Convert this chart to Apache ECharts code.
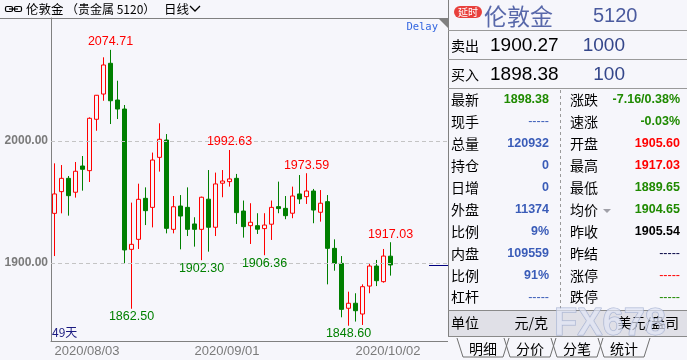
<!DOCTYPE html>
<html><head><meta charset="utf-8">
<script src="https://cdn.jsdelivr.net/npm/echarts/dist/echarts.min.js"></script>
<style>html,body{margin:0;padding:0;background:#f6f6fb}#c{width:687px;height:360px}</style>
</head><body><div id="c"></div>
<script>
const dates = ['2020/08/03','2020/08/04','2020/08/05','2020/08/06','2020/08/07','2020/08/10','2020/08/11','2020/08/12','2020/08/13','2020/08/14',
'2020/08/17','2020/08/18','2020/08/19','2020/08/20','2020/08/21','2020/08/24','2020/08/25','2020/08/26','2020/08/27','2020/08/28',
'2020/09/01','2020/09/02','2020/09/03','2020/09/04','2020/09/07','2020/09/08','2020/09/09','2020/09/10','2020/09/11','2020/09/14',
'2020/09/15','2020/09/16','2020/09/17','2020/09/18','2020/09/21','2020/09/22','2020/09/23','2020/09/24','2020/09/25','2020/09/28',
'2020/09/29','2020/09/30','2020/10/01','2020/10/02','2020/10/05','2020/10/06','2020/10/07','2020/10/08','2020/10/09'];
const opens = [1940.7,1958.5,1969.4,1958.0,1979.5,1975.7,2017.8,2038.5,2063.7,2033.6,
2026.2,1911.2,1919.4,1953.0,1945.6,1986.6,2000.8,1927.6,1946.7,1945.6,
1932.0,1927.6,1952.3,1929.3,1965.4,1966.7,1969.4,1942.6,1930.6,1930.6,
1928.2,1931.8,1946.2,1944.8,1940.8,1956.6,1954.4,1959.0,1941.6,1950.3,
1912.0,1899.7,1862.9,1867.0,1858.2,1881.1,1897.5,1884.7,1905.60];
const closes = [1956.6,1969.4,1955.2,1975.2,1976.8,2018.6,2037.5,2062.3,2033.0,2026.2,
1910.7,1915.3,1952.2,1942.9,1984.4,2001.4,1928.4,1946.1,1938.5,1927.6,
1927.6,1953.9,1929.3,1964.8,1967.2,1968.9,1941.3,1929.8,1933.4,1927.7,
1931.1,1945.6,1944.6,1938.8,1954.9,1952.5,1959.0,1943.4,1949.0,1912.0,
1899.7,1862.0,1867.0,1860.9,1880.6,1897.5,1885.5,1905.7,1898.38];
const lows = [1905.7,1940.7,1938.8,1953.6,1959.3,1966.4,2008.4,2033.0,2013.9,2018.0,
1899.7,1862.50,1911.5,1931.1,1929.2,1974.9,1924.3,1924.3,1911.2,1922.1,
1913.4,1902.30,1909.3,1922.1,1953.9,1962.6,1932.0,1920.8,1915.6,1923.8,
1906.36,1918.9,1940.8,1935.9,1936.7,1948.4,1948.4,1932.6,1933.9,1882.5,
1893.7,1855.5,1848.60,1852.0,1849.2,1875.2,1881.1,1883.9,1889.65];
const highs = [1981.7,1980.3,1971.3,1982.8,1987.7,2019.4,2037.7,2068.6,2074.71,2049.4,
2029.5,1949.5,1965.0,1962.0,1990.5,2014.5,2005.7,1954.9,1955.7,1962.0,
1937.5,1954.4,1976.2,1974.1,1976.2,1992.63,1973.0,1951.2,1949.0,1940.8,
1940.8,1951.2,1966.7,1954.9,1962.6,1972.1,1973.59,1960.7,1959.8,1955.7,
1919.4,1905.7,1876.5,1875.2,1882.5,1899.7,1902.5,1911.5,1917.03];
const highLabelIdx = [8, 25, 36, 48];
const lowLabelIdx = [11, 21, 30, 42];
const xLabelIdx = [0, 20, 43];
const yTickLabels = [1900, 2000];
const lastPrice = 1898.38;

const leftLabels = ['最新','现手','总量','持仓','日增','外盘','比例','内盘','比例','杠杆'];
const leftValues = ['1898.38','-----','120932','0','0','11374','9%','109559','91%','-----'];
const rightLabels = ['涨跌','速涨','开盘','最高','最低','均价','昨收','昨结','涨停','跌停'];
const rightValues = ['-7.16/0.38%','-0.03%','1905.60','1917.03','1889.65','1904.65','1905.54','-----','-----','-----'];
const tabs = ['明细','分价','分笔','统计'];

const BG = '#f6f6fb', GRAY = '#808080', RED = '#ff0000', GREEN = '#007f00';
const PG = '#1f8a00', PB = '#3a5cb8', NUM = 'Liberation Sans', CJK = 'Noto Sans CJK SC';
const leftColors = [PG,PB,PB,PB,PB,PB,PB,PB,PB,PB];
const rightColors = [PG,PG,RED,RED,PG,PG,'#000','#000040',RED,PG];

const pad = 8;
const cats = dates.concat(new Array(pad).fill(''));
const kdata = dates.map((d,i)=>[opens[i], closes[i], lows[i], highs[i]]);

const mp = [];
highLabelIdx.forEach(i=>mp.push({coord:[i, highs[i]], value: highs[i],
  label:{show:true, position:'top', distance:1, color:RED, formatter: highs[i].toFixed(2)}}));
lowLabelIdx.forEach(i=>mp.push({coord:[i, lows[i]], value: lows[i],
  label:{show:true, position:'bottom', distance:1, color:'#008000', formatter: lows[i].toFixed(2)}}));

function T(text, x, y, o){ o=o||{}; return {type:'text', z:100, silent:true, style:Object.assign({text, x, y, fill:o.fill||'#000',
  font:o.font||('14px "'+CJK+'"'), align:o.align||'left', verticalAlign:'middle'}, o.extra||{})}; }
function L(x1,y1,x2,y2,stroke,dash,w){ return {type:'line', z:99, silent:true, shape:{x1,y1,x2,y2}, style:{stroke:stroke||GRAY, lineWidth:w||1, lineDash:dash||null}}; }

const g = [];
g.push({type:'rect', z:90, silent:true, shape:{x:448, y:0, width:239, height:360}, style:{fill:BG}});
// header
g.push({type:'rect', z:99, silent:true, shape:{x:5.5,y:6.5,width:7,height:5,r:1.5}, style:{fill:'none', stroke:'#000', lineWidth:1.2}});
g.push({type:'rect', z:99, silent:true, shape:{x:14.5,y:6.5,width:7,height:5,r:1.5}, style:{fill:'none', stroke:'#000', lineWidth:1.2}});
g.push(L(9,9,18,9,'#000',null,1.2));
g.push(T('伦敦金', 26, 9.5, {font:'12.5px "'+CJK+'"'}));
g.push(T('（贵金属 5120）', 66, 9.5, {font:'12px "'+CJK+'"'}));
g.push(T('日线', 164, 9.5, {font:'12.5px "'+CJK+'"'}));
g.push({type:'polyline', z:99, silent:true, shape:{points:[[190,6],[195,11],[200,6]]}, style:{fill:'none', stroke:'#000', lineWidth:1.3}});
g.push(L(0,18.5,448,18.5,GRAY));
g.push({type:'polygon', z:99, silent:true, shape:{points:[[438,18],[448,18],[448,28]]}, style:{fill:GRAY}});
g.push(T('Delay', 438, 27, {fill:'#3366e0', align:'right', font:'10.5px "DejaVu Sans Mono"'}));
g.push(T('49天', 52, 332, {fill:'#1a1a80', font:'12px "'+CJK+'"'}));
// right panel
g.push(L(448.5,0,448.5,336,GRAY));
g.push({type:'rect', z:99, silent:true, shape:{x:454,y:6,width:28,height:12,r:6}, style:{fill:'#e8403c'}});
g.push(T('延时', 468, 12, {fill:'#fff', align:'center', font:'10px "'+CJK+'"'}));
g.push(T('伦敦金', 484, 16, {fill:'#5868aa', font:'23px "'+CJK+'"'}));
g.push(T('5120', 593, 16, {fill:'#4a5a9e', font:'20px "'+NUM+'"'}));
g.push(L(448,30.5,687,30.5,'#9a9a9a'));
g.push(T('卖出', 451, 46, {}));
g.push(T('1900.27', 490, 46, {font:'19px "'+NUM+'"'}));
g.push(T('1000', 625, 46, {fill:'#34468a', align:'right', font:'19px "'+NUM+'"'}));
g.push(L(448,59.5,687,59.5,'#9a9a9a'));
g.push(T('买入', 451, 75, {}));
g.push(T('1898.38', 490, 75, {font:'19px "'+NUM+'"'}));
g.push(T('100', 625, 75, {fill:'#34468a', align:'right', font:'19px "'+NUM+'"'}));
g.push(L(448,88.5,687,88.5,'#9a9a9a'));
g.push(L(560.5,90,560.5,309,'#9a9a9a',[3,3]));
leftLabels.forEach((s,i)=>{
  const y = 100 + i*21.9;
  g.push(T(s, 451, y, {}));
  const dash = leftValues[i].indexOf('---')===0;
  g.push(T(leftValues[i], 549, y, {fill:leftColors[i], align:'right', font:(dash?'':'bold ')+'12.5px "'+NUM+'"'}));
  g.push(T(rightLabels[i], 570, y, {}));
  const dash2 = rightValues[i].indexOf('---')===0;
  g.push(T(rightValues[i], 680, y, {fill:rightColors[i], align:'right', font:(dash2?'':'bold ')+'12.5px "'+NUM+'"'}));
});
g.push({type:'polygon', z:99, silent:true, shape:{points:[[603,209],[611,209],[607,213]]}, style:{fill:'#a0a0a8'}});
g.push({type:'rect', z:95, silent:true, shape:{x:449,y:310,width:238,height:26}, style:{fill:'#e0e0e7'}});
g.push(L(448,310.5,687,310.5,'#8a8a8a'));
g.push(L(448,336.5,687,336.5,'#8a8a8a'));
g.push(T('单位', 451, 323, {}));
g.push(T('元/克', 548, 323, {align:'right'}));
g.push(T('美元/盎司', 679, 323, {align:'right'}));
g.push(T('FX678', 610, 325, {fill:'rgba(225,230,245,0.7)', align:'center', font:'bold 38px "'+NUM+'"',
  extra:{stroke:'rgba(140,155,195,0.7)', lineWidth:1}}));
tabs.forEach((s,i)=>{
  const Lx = 457 + i*47, R = Lx + 52;
  g.push({type:'polyline', z:99, silent:true, shape:{points:[[Lx,338],[Lx+6,357],[R-6,357],[R,338]]}, style:{fill:'none', stroke:'#707070', lineWidth:1}});
  g.push(T(s, (Lx+R)/2, 349, {align:'center'}));
});

const option = {
  backgroundColor: BG,
  animation: false,
  grid: {left: 51, top: 18, width: 399, height: 323},
  xAxis: {type:'category', data: cats, boundaryGap: true,
    axisLine:{lineStyle:{color:GRAY}},
    axisTick:{show:true, inside:true, length:9, interval:(i)=>i===48, lineStyle:{color:GRAY}},
    axisLabel:{interval:(i)=>xLabelIdx.includes(i), align:'left', color:'#7a7a7a', fontSize:13, fontFamily:NUM, margin:4},
    splitLine:{show:false}},
  yAxis: {type:'value', min: 1836.07, max: 2100.82, scale:true,
    axisLine:{show:true, lineStyle:{color:GRAY}}, axisTick:{show:false}, splitLine:{show:false},
    axisLabel:{color:'#7a7a7a', fontWeight:'bold', fontSize:12, fontFamily:NUM, margin:3,
      formatter:(v)=> yTickLabels.some(t=>Math.abs(t-v)<1e-6) ? v.toFixed(2) : ''}},
  series: [{
    type:'candlestick', data:kdata, barWidth:5,
    itemStyle:{color:BG, color0:GREEN, borderColor:RED, borderColor0:GREEN, borderWidth:1},
    markLine:{silent:true, symbol:'none', label:{show:false}, animation:false,
      lineStyle:{color:'#c4c4c4', type:[4,3], width:1},
      data: yTickLabels.map(v=>({yAxis:v}))},
    markPoint:{symbol:'circle', symbolSize:1, itemStyle:{color:'transparent'}, silent:true, animation:false,
      label:{fontSize:12.5, fontFamily:NUM}, data: mp}
  }],
  graphic: g
};
const chart = echarts.init(document.getElementById('c'), null, {renderer:'canvas'});
chart.setOption(option);
const py = Math.round(chart.convertToPixel({yAxisIndex:0}, lastPrice)) + 0.5;
chart.setOption({graphic:[{id:'pl', type:'line', z:98, silent:true, shape:{x1:429, y1:py, x2:448, y2:py}, style:{stroke:'#000080', lineWidth:1}}]});
</script></body></html>
